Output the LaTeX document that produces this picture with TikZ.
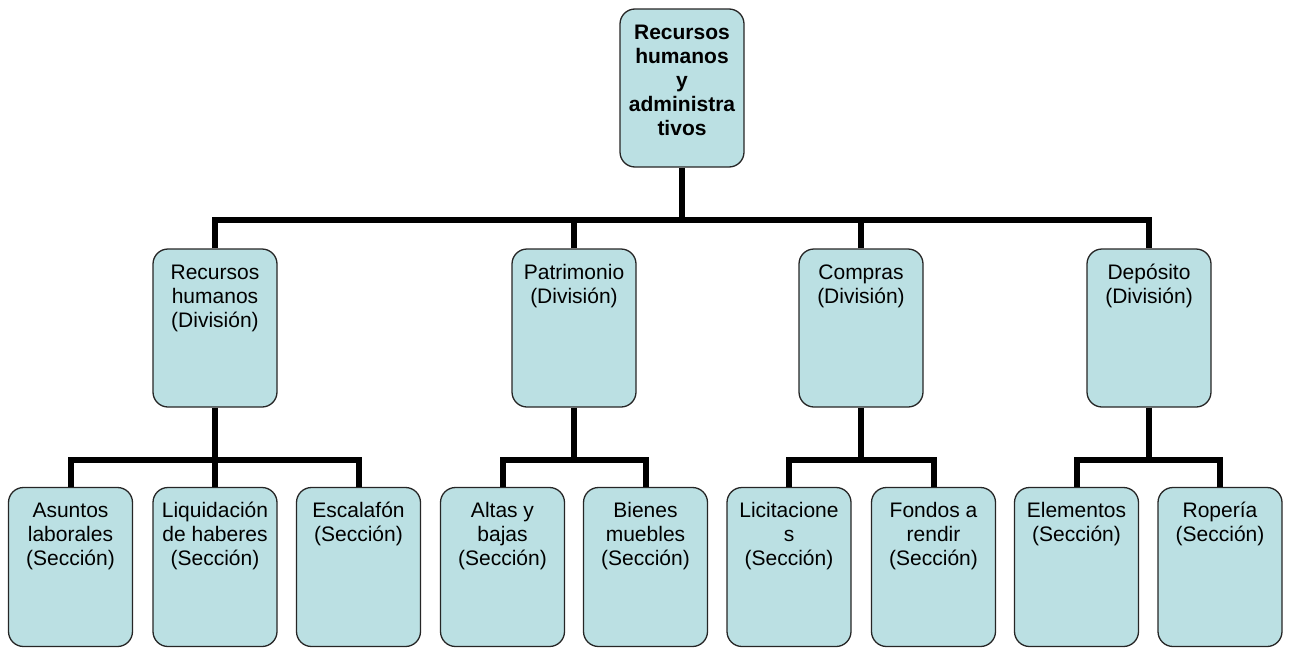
\documentclass[tikz,border=0pt]{standalone}
\usepackage{fontspec}
\setmainfont{Liberation Sans}
\definecolor{boxfill}{RGB}{187,224,227}
% box text: fixed-size parbox, lines set from the top
\newcommand{\orgtext}[2]{\parbox[c][#1][t]{124pt}{\centering\fontsize{21pt}{24pt}\selectfont\rule{0pt}{30pt}#2}}
\tikzset{
  orgbox/.style={draw=black!85, line width=1.3pt, fill=boxfill, rounded corners=15pt,
    inner sep=0pt, minimum width=124pt},
  conn/.style={line width=6pt, black}
}
\begin{document}
\begin{tikzpicture}[x=1pt,y=-1pt]
\useasboundingbox (0,0) rectangle (1293,648);

% director
\node[orgbox] (top) at (682,88) {\orgtext{158pt}{\bfseries Recursos\\humanos\\y\\administra\\tivos}};

% divisions
\node[orgbox] (d1) at (215,328) {\orgtext{158pt}{Recursos\\humanos\\(División)}};
\node[orgbox] (d2) at (574,328) {\orgtext{158pt}{Patrimonio\\(División)}};
\node[orgbox] (d3) at (861,328) {\orgtext{158pt}{Compras\\(División)}};
\node[orgbox] (d4) at (1149,328) {\orgtext{158pt}{Depósito\\(División)}};

% sections
\node[orgbox] (s1) at (70.5,567) {\orgtext{159pt}{Asuntos\\laborales\\(Sección)}};
\node[orgbox] (s2) at (215,567) {\orgtext{159pt}{Liquidación\\de haberes\\(Sección)}};
\node[orgbox] (s3) at (358.5,567) {\orgtext{159pt}{Escalafón\\(Sección)}};
\node[orgbox] (s4) at (502.5,567) {\orgtext{159pt}{Altas y\\bajas\\(Sección)}};
\node[orgbox] (s5) at (645.5,567) {\orgtext{159pt}{Bienes\\muebles\\(Sección)}};
\node[orgbox] (s6) at (789,567) {\orgtext{159pt}{Licitacione\\s\\(Sección)}};
\node[orgbox] (s7) at (933.5,567) {\orgtext{159pt}{Fondos a\\rendir\\(Sección)}};
\node[orgbox] (s8) at (1076.5,567) {\orgtext{159pt}{Elementos\\(Sección)}};
\node[orgbox] (s9) at (1220,567) {\orgtext{159pt}{Ropería\\(Sección)}};

% bus junctions
\coordinate (bus) at (682,220);
\coordinate (b1) at (215,460);
\coordinate (b2) at (574,460);
\coordinate (b3) at (861,460);
\coordinate (b4) at (1149,460);

% director to divisions
\draw[conn] (top.south) -- (bus);
\draw[conn] (d1.north) |- (bus) -| (d4.north);
\draw[conn] (d2.north) -- (d2.north |- bus);
\draw[conn] (d3.north) -- (d3.north |- bus);

% divisions to sections
\draw[conn] (d1.south) -- (s2.north);
\draw[conn] (s1.north) |- (b1) -| (s3.north);

\draw[conn] (d2.south) -- (b2);
\draw[conn] (s4.north) |- (b2) -| (s5.north);

\draw[conn] (d3.south) -- (b3);
\draw[conn] (s6.north) |- (b3) -| (s7.north);

\draw[conn] (d4.south) -- (b4);
\draw[conn] (s8.north) |- (b4) -| (s9.north);
\end{tikzpicture}
\end{document}
